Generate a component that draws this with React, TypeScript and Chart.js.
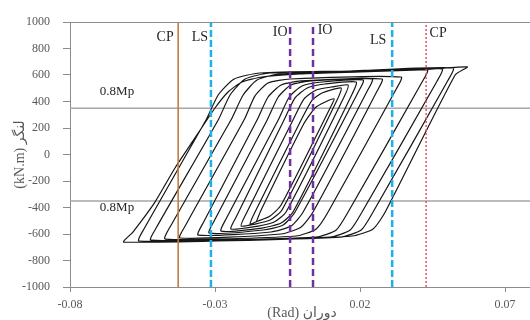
import React, { useEffect, useRef } from "react";
import { Chart, registerables } from "chart.js";

Chart.register(...registerables);

// ---- axis data ----
const xTicks = [-0.08, -0.03, 0.02, 0.07];
const xMin = -0.08;
const xMax = 0.08;
const yMin = -1000;
const yMax = 1000;
const yStep = 200;

// ---- 0.8Mp levels ----
const mpLevels = [350, -350];
const mpLabel = "0.8Mp";

// ---- performance limits ----
const limitNames = ["CP", "LS", "IO", "IO", "LS", "CP"];
const limitX = [-0.0427, -0.0314, -0.0041, 0.0038, 0.0311, 0.0428];

// ---- hysteresis loops [rotation (rad), moment (kN.m)] ----
const loop1 = [[-0.0158, -510], [-0.0141, -419], [0.0004, 223], [0.0045, 351], [0.008, 396], [0.0111, 419], [0.0097, 351], [-0.0072, -381], [-0.011, -464], [-0.0151, -502]];
const loop2 = [[-0.0179, -525], [-0.0162, -434], [-0.0003, 260], [0.0035, 411], [0.0069, 464], [0.0135, 502], [0.0121, 411], [-0.0069, -419], [-0.011, -495], [-0.0162, -525]];
const loop3 = [[-0.021, -540], [-0.0193, -449], [-0.0031, 260], [0.0007, 419], [0.0049, 487], [0.0104, 510], [0.0159, 525], [0.0145, 434], [-0.0055, -434], [-0.0096, -510], [-0.0151, -540]];
const loop4 = [[-0.0245, -562], [-0.0227, -472], [-0.0062, 260], [-0.0024, 427], [0.0018, 502], [0.008, 532], [0.0187, 547], [0.0173, 457], [-0.0031, -434], [-0.0072, -517], [-0.0138, -555]];
const loop5 = [[-0.0279, -578], [-0.0262, -487], [-0.0082, 260], [-0.0044, 434], [0.0, 517], [0.0069, 547], [0.0211, 562], [0.0194, 472], [-0.0024, -434], [-0.0065, -532], [-0.0134, -570]];
const loop6 = [[-0.032, -593], [-0.0303, -502], [-0.012, 260], [-0.0082, 434], [-0.0038, 525], [0.0031, 555], [0.0242, 570], [0.0225, 479], [0.0004, -434], [-0.0038, -540], [-0.0107, -585]];
const loop7 = [[-0.0358, -608], [-0.0341, -517], [-0.0155, 260], [-0.0117, 434], [-0.0072, 525], [-0.0003, 555], [0.0276, 570], [0.0259, 479], [0.0038, -434], [-0.0003, -547], [-0.0072, -600]];
const loop8 = [[-0.0421, -630], [-0.0403, -540], [-0.02, 260], [-0.0162, 442], [-0.0117, 540], [-0.0041, 570], [0.0342, 585], [0.0325, 495], [0.009, -434], [0.0049, -562], [-0.002, -615]];
const loop9 = [[-0.0472, -638], [-0.0455, -547], [-0.0245, 260], [-0.0203, 449], [-0.0155, 562], [-0.0076, 608], [0.0166, 623], [0.0432, 638], [0.0414, 547], [0.0159, -434], [0.0118, -570], [0.0049, -623]];
const loop10 = [[-0.0521, -646], [-0.0503, -555], [-0.0289, 260], [-0.0248, 449], [-0.0196, 570], [-0.011, 615], [0.0166, 630], [0.0483, 646], [0.0466, 555], [0.0207, -434], [0.0166, -570], [0.0097, -623]];
const loop11 = [[-0.0562, -653], [-0.0545, -562], [-0.0331, 260], [-0.0289, 449], [-0.0234, 570], [-0.0145, 615], [0.0166, 630], [0.0521, 653], [0.0504, 562], [0.0245, -434], [0.0204, -570], [0.0132, -623]];
const loop12 = [[-0.0614, -661], [-0.0583, -585], [-0.0507, -359], [-0.0438, -102], [-0.0369, 125], [-0.03, 351], [-0.0255, 472], [-0.0207, 547], [-0.0138, 585], [-0.0007, 608], [0.0201, 623], [0.0408, 638], [0.057, 661], [0.0528, 600], [0.0287, -434], [0.0245, -562], [0.0173, -615], [-0.0007, -630]];

const loops = [loop1, loop2, loop3, loop4, loop5, loop6, loop7, loop8, loop9, loop10, loop11, loop12];

// ---- titles ----
const xTitle = "(Rad) دوران";
const yTitle = "(kN.m) لنگر";

// ---- styles ----
const FONT = "'Liberation Serif', 'DejaVu Sans', serif";
const AXIS_GREY = "#8c8c8c";
const TEXT_GREY = "#595959";
const limitStyles = [
  { color: "#c47a3d", width: 1.6, dash: [] as number[] },
  { color: "#1fb2ea", width: 2.5, dash: [7, 3] },
  { color: "#7030a0", width: 2.5, dash: [7, 4] },
  { color: "#7030a0", width: 2.5, dash: [7, 4] },
  { color: "#1fb2ea", width: 2.5, dash: [7, 3] },
  { color: "#e8505a", width: 1.5, dash: [2, 2] },
];
// label placement relative to its line (pixels)
const limitLabelOffsets = [
  { dx: -13, y: 37 },
  { dx: -11, y: 37 },
  { dx: -10, y: 32 },
  { dx: 12, y: 30 },
  { dx: -14, y: 40 },
  { dx: 12, y: 33 },
];
const mpLabelOffsets = [-17, 7];

const overlayPlugin = {
  id: "overlay",
  afterDatasetsDraw(chart: any) {
    const { ctx, chartArea, scales } = chart;
    const xs = scales.x;
    const ys = scales.y;
    ctx.save();
    // top & right frame
    ctx.strokeStyle = AXIS_GREY;
    ctx.lineWidth = 1;
    ctx.beginPath();
    ctx.moveTo(chartArea.left, chartArea.top + 0.5);
    ctx.lineTo(chartArea.right, chartArea.top + 0.5);
    ctx.lineTo(chartArea.right, chartArea.bottom);
    ctx.stroke();
    // labels
    ctx.fillStyle = "#262626";
    ctx.textAlign = "center";
    ctx.textBaseline = "middle";
    ctx.font = `14px ${FONT}`;
    limitNames.forEach((name, i) => {
      const px = xs.getPixelForValue(limitX[i]) + limitLabelOffsets[i].dx;
      ctx.fillText(name, px, limitLabelOffsets[i].y);
    });
    ctx.font = `13px ${FONT}`;
    mpLevels.forEach((v, i) => {
      const py = ys.getPixelForValue(v) + mpLabelOffsets[i];
      ctx.fillText(mpLabel, xs.getPixelForValue(xMin) + 47, py);
    });
    ctx.restore();
  },
};

export default function App() {
  const canvasRef = useRef<HTMLCanvasElement | null>(null);

  useEffect(() => {
    const canvas = canvasRef.current;
    if (!canvas) return;

    const hysteresis = loops.flat().map(([x, y]) => ({ x, y }));

    const limitSets = limitX.map((v, i) => ({
      data: [{ x: v, y: yMin }, { x: v, y: yMax }],
      showLine: true,
      borderColor: limitStyles[i].color,
      borderWidth: limitStyles[i].width,
      borderDash: limitStyles[i].dash,
      pointRadius: 0,
      tension: 0,
    }));

    const mpSets = mpLevels.map((v) => ({
      data: [{ x: xMin, y: v }, { x: xMax, y: v }],
      showLine: true,
      borderColor: "#a6a6a6",
      borderWidth: 1.5,
      pointRadius: 0,
      tension: 0,
    }));

    const chart = new Chart(canvas, {
      type: "scatter",
      data: {
        datasets: [
          ...limitSets,
          {
            data: hysteresis,
            showLine: true,
            borderColor: "#151515",
            borderWidth: 1.2,
            pointRadius: 0,
            tension: 0.2,
          },
          ...mpSets,
        ] as any,
      },
      options: {
        animation: false,
        responsive: false,
        events: [],
        plugins: { legend: { display: false }, tooltip: { enabled: false } },
        layout: { padding: { top: 22, right: 6, bottom: 0, left: 0 } },
        scales: {
          x: {
            type: "linear",
            min: xMin,
            max: xMax,
            afterBuildTicks: (s: any) => {
              s.ticks = xTicks.map((v) => ({ value: v }));
            },
            afterFit: (s: any) => {
              s.height = 33;
            },
            ticks: {
              autoSkip: false,
              maxRotation: 0,
              padding: 6,
              color: TEXT_GREY,
              font: { family: FONT, size: 12 },
              callback: (v: any) => Number(v).toFixed(2),
            },
            grid: { drawOnChartArea: false, drawTicks: true, tickLength: 5, color: AXIS_GREY },
            border: { color: AXIS_GREY, width: 1 },
            title: {
              display: true,
              text: xTitle,
              color: TEXT_GREY,
              font: { family: FONT, size: 14, lineHeight: 1 },
              padding: { top: 0, bottom: 0 },
            },
          },
          y: {
            type: "linear",
            min: yMin,
            max: yMax,
            afterFit: (s: any) => {
              s.width = 70;
            },
            ticks: {
              stepSize: yStep,
              padding: 13,
              color: TEXT_GREY,
              font: { family: FONT, size: 12 },
              callback: (v: any) => String(v),
            },
            grid: { drawOnChartArea: false, drawTicks: true, tickLength: 7, color: AXIS_GREY },
            border: { color: AXIS_GREY, width: 1 },
            title: {
              display: true,
              text: yTitle,
              color: TEXT_GREY,
              font: { family: FONT, size: 14, lineHeight: 1 },
              padding: { top: 13, bottom: 0 },
            },
          },
        },
      },
      plugins: [overlayPlugin],
    });

    return () => chart.destroy();
  }, []);

  return (
    <div
      style={{
        position: "absolute",
        left: 0,
        top: 0,
        width: 530,
        height: 320,
        overflow: "hidden",
        background: "#fff",
      }}
    >
      <canvas ref={canvasRef} width={540} height={320} style={{ display: "block" }} />
    </div>
  );
}
